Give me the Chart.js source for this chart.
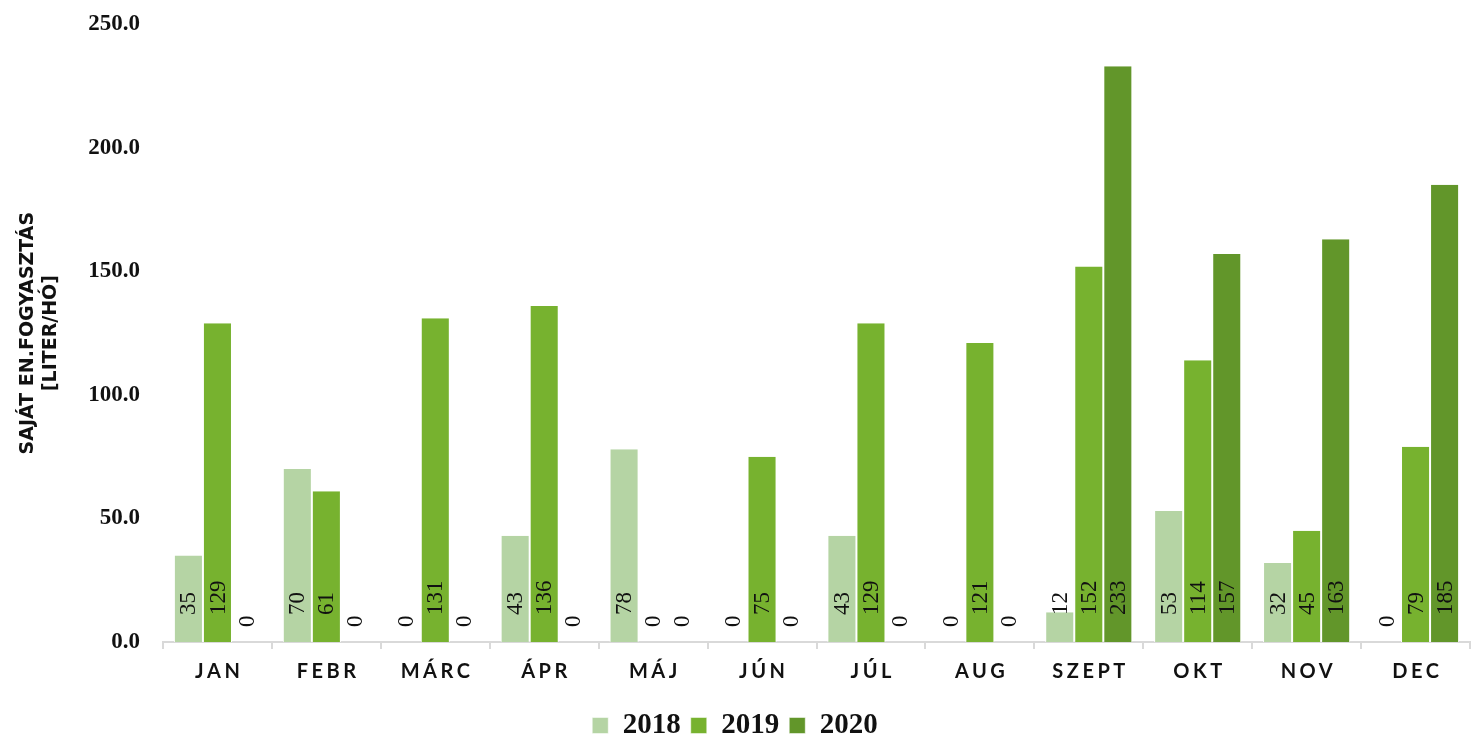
<!DOCTYPE html>
<html>
<head>
<meta charset="utf-8">
<script src="https://cdn.jsdelivr.net/npm/chart.js@4"></script>
<style>
  html, body { margin: 0; padding: 0; background: #fff; }
  #wrap { width: 1472px; height: 738px; }
</style>
</head>
<body>
<div id="wrap"><canvas id="grafico"></canvas></div>
<script>
// ===============================
// Data
// ===============================
const honapok = ['JAN', 'FEBR', 'MÁRC', 'ÁPR', 'MÁJ', 'JÚN', 'JÚL', 'AUG', 'SZEPT', 'OKT', 'NOV', 'DEC'];
const evek = ['2018', '2019', '2020'];
const adat2018 = [35, 70, 0, 43, 78, 0, 43, 0, 12, 53, 32, 0];
const adat2019 = [129, 61, 131, 136, 0, 75, 129, 121, 152, 114, 45, 79];
const adat2020 = [0, 0, 0, 0, 0, 0, 0, 0, 233, 157, 163, 185];
const yTicks = [0, 50, 100, 150, 200, 250];

const szinek = ['#b5d4a4', '#77b22f', '#62962a'];
const serif = '"Liberation Serif", "DejaVu Serif", serif';
const sans = '"Lato", "DejaVu Sans", sans-serif';

// ===============================
// Plugin: rotated value labels near the base
// ===============================
const ertekCimkek = {
  id: 'ertekCimkek',
  afterDatasetsDraw(chart) {
    const ctx = chart.ctx;
    const y0 = chart.scales.y.getPixelForValue(0);
    ctx.save();
    ctx.font = '23px ' + serif;
    ctx.fillStyle = '#111';
    ctx.textAlign = 'left';
    ctx.textBaseline = 'middle';
    chart.data.datasets.forEach((ds, i) => {
      const meta = chart.getDatasetMeta(i);
      meta.data.forEach((bar, j) => {
        const v = ds.data[j];
        const start = v > 0 ? y0 - 27 : y0 - 15;
        ctx.save();
        ctx.translate(bar.x, start);
        ctx.rotate(-Math.PI / 2);
        ctx.fillText(String(Math.round(v)), 0, 1);
        ctx.restore();
      });
    });
    ctx.restore();
  }
};

// ===============================
// Plugin: spaced month labels on the x axis
// ===============================
const honapCimkek = {
  id: 'honapCimkek',
  afterDraw(chart) {
    const ctx = chart.ctx;
    const xs = chart.scales.x;
    const spacing = 3.5;
    ctx.save();
    ctx.font = 'bold 20px ' + sans;
    ctx.fillStyle = '#111';
    ctx.textAlign = 'center';
    ctx.textBaseline = 'middle';
    ctx.letterSpacing = spacing + 'px';
    honapok.forEach((h, i) => {
      ctx.fillText(h, xs.getPixelForValue(i) + spacing / 2, 672);
    });
    ctx.restore();
  }
};

// ===============================
// Chart
// ===============================
const ctx = document.getElementById('grafico').getContext('2d');
new Chart(ctx, {
  type: 'bar',
  data: {
    labels: honapok,
    datasets: [
      { label: evek[0], data: adat2018, backgroundColor: szinek[0], borderColor: '#ffffff', borderWidth: { left: 1, right: 1 } },
      { label: evek[1], data: adat2019, backgroundColor: szinek[1], borderColor: '#ffffff', borderWidth: { left: 1, right: 1 } },
      { label: evek[2], data: adat2020, backgroundColor: szinek[2], borderColor: '#ffffff', borderWidth: { left: 1, right: 1 } }
    ]
  },
  options: {
    responsive: true,
    maintainAspectRatio: false,
    animation: false,
    categoryPercentage: 0.8,
    barPercentage: 1,
    layout: { padding: { top: 0, right: 2, left: 0, bottom: -12 } },
    plugins: {
      tooltip: { enabled: false },
      legend: {
        position: 'bottom',
        labels: {
          boxWidth: 16,
          boxHeight: 16,
          padding: 10,
          color: '#111',
          font: { family: serif, size: 29, weight: 'bold' }
        }
      }
    },
    scales: {
      x: {
        grid: {
          display: true,
          drawOnChartArea: false,
          drawTicks: true,
          tickLength: 7,
          color: '#d9d9d9',
          lineWidth: 2
        },
        border: { display: true, color: '#d9d9d9', width: 2 },
        ticks: { color: 'rgba(0,0,0,0)', font: { size: 17 } },
        afterFit(scale) { scale.height = 59; }
      },
      y: {
        min: 0,
        max: 250,
        afterBuildTicks(scale) { scale.ticks = yTicks.map(v => ({ value: v })); },
        grid: { display: false },
        border: { display: false },
        ticks: {
          padding: 15,
          color: '#111',
          font: { family: serif, size: 23, weight: 'bold', lineHeight: 0.8 },
          callback: v => v.toFixed(1)
        },
        title: {
          display: true,
          text: ['SAJÁT EN.FOGYASZTÁS', '[LITER/HÓ]'],
          color: '#111',
          font: { family: '"DejaVu Sans", sans-serif', size: 19, weight: 'bold' },
          padding: { top: 17, bottom: 0 }
        },
        afterFit(scale) { scale.width = 163; }
      }
    }
  },
  plugins: [ertekCimkek, honapCimkek]
});
</script>
</body>
</html>
